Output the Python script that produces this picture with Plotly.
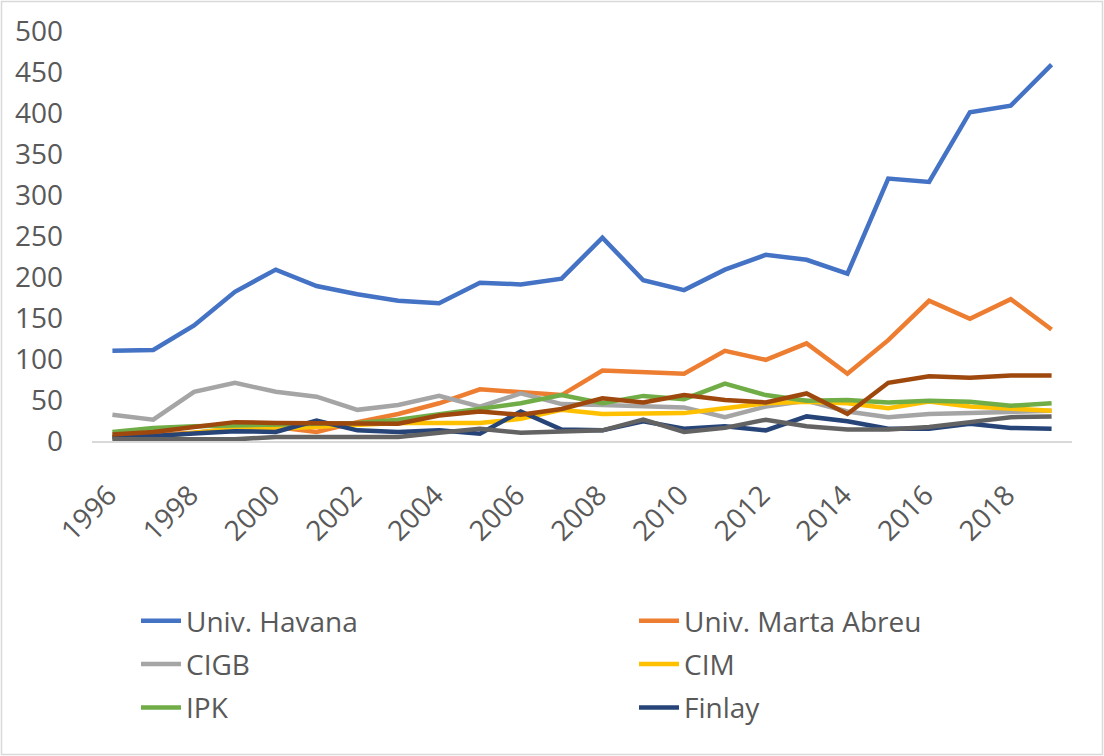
# Publications per year by Cuban institution, 1996-2019
import plotly.graph_objects as go

years = list(range(1996, 2020))

havana = [110, 111, 141, 182, 209, 189, 179, 171, 168, 193, 191, 198,
          248, 196, 184, 209, 227, 221, 204, 320, 316, 401, 409, 459]
marta_abreu = [5, 7, 10, 15, 17, 11, 23, 33, 46, 63, 60, 56,
               86, 84, 82, 110, 99, 119, 82, 123, 171, 149, 173, 136]
cigb = [32, 26, 60, 71, 60, 54, 38, 44, 55, 42, 58, 45,
        44, 42, 41, 29, 42, 49, 36, 29, 33, 34, 35, 37]
cim = [3, 5, 10, 15, 15, 17, 20, 22, 22, 22, 27, 38,
       33, 34, 34, 40, 46, 48, 46, 40, 48, 42, 40, 37]
ipk = [11, 16, 18, 19, 20, 20, 22, 26, 33, 39, 46, 56,
       46, 55, 51, 70, 56, 49, 50, 47, 49, 48, 43, 46]
finlay = [5, 6, 9, 12, 11, 25, 13, 11, 13, 9, 36, 14,
          13, 24, 15, 18, 13, 30, 24, 15, 15, 21, 16, 15]
# two more series are drawn in the chart but cut off from its legend
serie7 = [8, 11, 17, 23, 22, 22, 22, 21, 31, 36, 32, 39,
          52, 47, 56, 50, 47, 58, 33, 71, 79, 77, 80, 80]
serie8 = [2, 2, 2, 2, 5, 5, 5, 5, 10, 15, 10, 11,
          13, 26, 11, 16, 26, 18, 14, 14, 17, 23, 29, 30]

# name, values, colour, legend column (None = not in legend)
series = [
    ("Univ. Havana", havana, "#4472C4", "legend"),
    ("Univ. Marta Abreu", marta_abreu, "#ED7D31", "legend2"),
    ("CIGB", cigb, "#A5A5A5", "legend"),
    ("CIM", cim, "#FFC000", "legend2"),
    ("IPK", ipk, "#70AD47", "legend"),
    ("Finlay", finlay, "#264478", "legend2"),
    ("Serie 7", serie7, "#9E480E", None),
    ("Serie 8", serie8, "#636363", None),
]

fig = go.Figure()
for name, vals, color, leg in series:
    fig.add_trace(go.Scatter(
        x=years, y=vals, name=name, mode="lines",
        line=dict(color=color, width=4.5),
        legend=leg or "legend", legendgroup=name,
        showlegend=leg is not None
    ))

W, H = 1104, 756
L, R, T, B = 92, 32, 31, 315
pw, ph = W - L - R, H - T - B

leg_font = dict(family="Open Sans", size=28, color="#595959")
leg_common = dict(
    orientation="v", xanchor="left", yanchor="top",
    y=-(596 - (T + ph)) / ph,
    itemwidth=40, tracegroupgap=4,
    font=leg_font, bgcolor="rgba(0,0,0,0)",
)

fig.update_layout(
    width=W, height=H,
    margin=dict(l=L, r=R, t=T, b=B, autoexpand=False),
    paper_bgcolor="white",
    plot_bgcolor="white",
    font=dict(family="Open Sans", size=28, color="#595959"),
    xaxis=dict(
        range=[1995.5, 2019.5],
        tick0=1996, dtick=2,
        tickangle=-45,
        showgrid=False, zeroline=False,
        showline=True, linecolor="#D9D9D9", linewidth=1.5,
        ticks="", ticklabelstandoff=25, ticklabelshift=-4,
    ),
    yaxis=dict(
        range=[0, 500],
        dtick=50,
        showgrid=False, zeroline=False, showline=False,
        ticks="", ticklabelstandoff=28,
    ),
    legend=dict(x=(136 - L) / pw, **leg_common),
    legend2=dict(x=(634 - L) / pw, **leg_common),
    hovermode="x unified",
)

# thin frame round the whole chart
fig.add_shape(
    type="rect", xref="paper", yref="paper",
    x0=(1.5 - L) / pw, x1=(W - 1.5 - L) / pw,
    y0=-(H - 1.5 - T - ph) / ph, y1=1 + (T - 1.5) / ph,
    line=dict(color="#D9D9D9", width=1.5),
    layer="below"
)

fig.write_html(
    "out.html",
    config={"displayModeBar": False},
    post_script="document.body.style.margin='0px';"
                "document.body.style.overflow='hidden';",
)
